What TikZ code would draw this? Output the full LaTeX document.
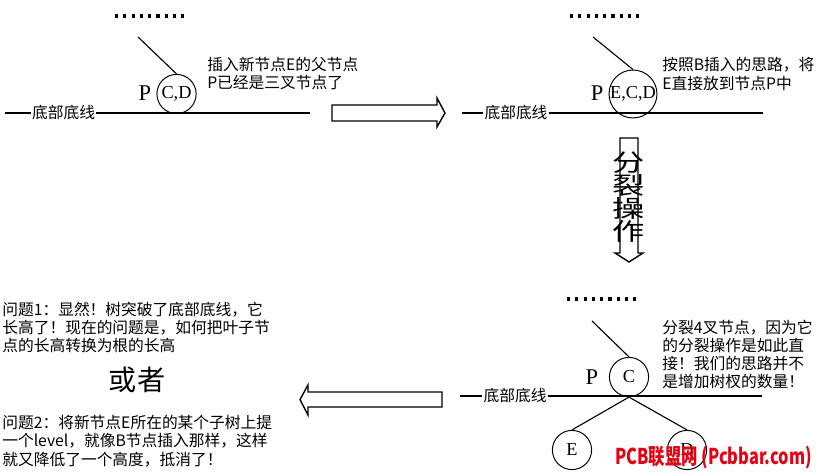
\documentclass[tikz,border=0pt]{standalone}
\usepackage{fontspec}
\setmainfont{Liberation Serif}
\newfontfamily\cjkfont{Noto Sans CJK SC}
\usepackage{tikz}
\definecolor{markred}{RGB}{230,0,18}
\tikzset{
  floorline/.style={line width=2pt, draw=black, line cap=butt},
  floorlabel/.style={fill=white, inner xsep=1pt, inner ysep=0pt, font=\cjkfont\fontsize{11.2}{13}\selectfont},
  keycircle/.style={circle, draw=black, line width=0.7pt, minimum size=0.98cm, inner sep=0pt, font=\fontsize{13}{13}\selectfont},
  parentmark/.style={inner sep=0pt, font=\fontsize{16}{16}\selectfont},
  branch/.style={line width=0.8pt, draw=black},
  dotrow/.style={line width=2.2pt, draw=black, dash pattern=on 2.2pt off 3.7pt},
  notetext/.style={anchor=west, align=left, inner sep=0pt, font=\cjkfont\fontsize{11.2}{13}\selectfont},
  blockarrow/.style={draw=black, fill=white, line width=1pt, line join=miter},
  splitlabel/.style={align=center, inner sep=0pt, xscale=1.35, transform shape, font=\cjkfont\fontsize{17}{16.5}\selectfont},
  orlabel/.style={inner sep=0pt, font=\cjkfont\fontsize{20}{20}\selectfont},
  watermark/.style={inner sep=0pt, text=markred, xscale=0.75, transform shape, font=\cjkfont\bfseries\fontsize{15.5}{15.5}\selectfont},
}

\begin{document}
\begin{tikzpicture}
\useasboundingbox (0,0) rectangle (20.4,11.8);
\draw[dotrow] (2.875,11.400) -- (4.620,11.400);
\draw[floorline] (0.125,8.975) -- (7.750,8.975);
\node[floorlabel] (floorA) at (1.590,8.975) {底部底线};
\node[keycircle] (cdA) at (4.413,9.450) {C,D};
\node[parentmark] (parentA) at (3.625,9.475) {P};
\coordinate (upA) at (3.450,10.875);
\draw[branch] (upA) -- (cdA.north);
\node[notetext] (noteA) at (5.175,9.960) {插入新节点E的父节点\\P已经是三叉节点了};
\draw[blockarrow] (8.300,9.175) -- (10.925,9.175) -- (10.925,9.350) -- (11.125,8.975) -- (10.925,8.625) -- (10.925,8.775) -- (8.300,8.775) -- cycle;
\draw[dotrow] (14.250,11.400) -- (15.995,11.400);
\draw[floorline] (11.550,8.975) -- (19.075,8.975);
\node[floorlabel] (floorB) at (12.900,8.975) {底部底线};
\node[keycircle] (ecdB) at (15.825,9.450) {E,C,D};
\node[parentmark] (parentB) at (14.925,9.475) {P};
\coordinate (upB) at (14.825,10.875);
\draw[branch] (upB) -- (ecdB.north);
\node[notetext] (noteB) at (16.550,9.950) {按照B插入的思路，将\\E直接放到节点P中};
\draw[blockarrow] (15.500,8.350) -- (15.950,8.350) -- (15.950,5.475) -- (16.075,5.475) -- (15.725,5.250) -- (15.375,5.475) -- (15.500,5.475) -- cycle;
\node[splitlabel] (splitC) at (15.725,6.875) {分\\裂\\操\\作};
\draw[dotrow] (14.175,4.325) -- (15.920,4.325);
\draw[floorline] (11.500,1.900) -- (19.050,1.900);
\node[floorlabel] (floorC) at (12.875,1.900) {底部底线};
\node[keycircle] (cC) at (15.725,2.375) {C};
\node[parentmark] (parentC) at (14.800,2.375) {P};
\coordinate (upC) at (14.800,3.775);
\draw[branch] (upC) -- (cC.north);
\node[keycircle] (eC) at (14.300,0.550) {E};
\node[keycircle] (dC) at (17.175,0.550) {D};
\draw[branch] (cC.south) -- (eC.north);
\draw[branch] (cC.south) -- (dC.north);
\node[notetext] (noteC) at (16.550,2.940) {分裂4叉节点，因为它\\的分裂操作是如此直\\接！我们的思路并不\\是增加树杈的数量！};
\draw[blockarrow] (11.050,2.000) -- (7.700,2.000) -- (7.700,2.175) -- (7.500,1.810) -- (7.700,1.425) -- (7.700,1.625) -- (11.050,1.625) -- cycle;
\node[notetext] (askA) at (0.050,3.610) {问题1：显然！树突破了底部底线，它\\长高了！现在的问题是，如何把叶子节\\点的长高转换为根的长高};
\node[orlabel] (orD) at (3.425,2.300) {或者};
\node[notetext] (askB) at (0.050,0.775) {问题2：将新节点E所在的某个子树上提\\一个level，就像B节点插入那样，这样\\就又降低了一个高度，抵消了！};
\node[watermark] (markC) at (17.840,0.350) {PCB联盟网 (Pcbbar.com)};
\end{tikzpicture}
\end{document}
